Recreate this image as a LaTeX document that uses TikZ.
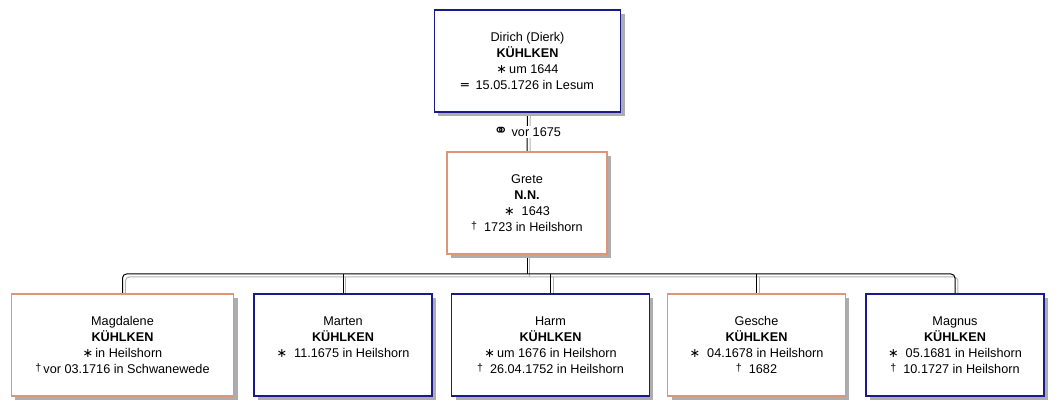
\documentclass[tikz,border=0pt]{standalone}
\usepackage{fontspec}
\setmainfont{Liberation Sans}
\newfontfamily\symb{DejaVu Sans}
\usetikzlibrary{shadows,backgrounds}
\definecolor{bleu}{RGB}{26,26,140}
\definecolor{saumon}{RGB}{222,150,120}
\newcommand{\geb}{{\symb ∗}}
\newcommand{\gest}{\raisebox{1.5pt}{\footnotesize †}}
\newcommand{\begr}{{\symb ═}}
\newcommand{\heirat}{{\symb\fontsize{13}{12}\selectfont ⚭}}
\begin{document}
\begin{tikzpicture}[x=0.75pt,y=-0.75pt]
		\tikzstyle{carte}=[minimum height=76.5pt, align=center, fill=white, line width=0.8pt, font=\fontsize{9.5}{12}\selectfont, drop shadow={shadow xshift=3pt, shadow yshift=-3pt, fill=black!32, opacity=1}]
		\tikzstyle{homme}=[carte, draw=bleu]
		\tikzstyle{femme}=[carte, draw=saumon]
		\tikzstyle{lien}=[line width=0.75pt, preaction={draw=black!30, line width=0.75pt, transform canvas={shift={(2.2pt,-2.2pt)}}}]
		\useasboundingbox (0,0) rectangle (1064,416);
		% parents
		\node[homme, minimum width=140pt] (dirich) at (527.5,61) {Dirich (Dierk)\\\textbf{KÜHLKEN}\\\geb\,um 1644\\\begr\ \ 15.05.1726 in Lesum};
		\node[femme, minimum width=120pt] (grete) at (527,203) {Grete\\\textbf{N.N.}\\\geb\ \ 1643\\\gest\ \ 1723 in Heilshorn};
		% enfants
		\node[femme, minimum width=167pt] (magdalene) at (122.5,345) {Magdalene\\\textbf{KÜHLKEN}\\\geb\,in Heilshorn\\\gest\,vor 03.1716 in Schwanewede};
		\node[homme, minimum width=133.5pt] (marten) at (343,345) {Marten\\\textbf{KÜHLKEN}\\\geb\ \ 11.1675 in Heilshorn\\\mbox{}};
		\node[homme, minimum width=148pt] (harm) at (550.5,345) {Harm\\\textbf{KÜHLKEN}\\\geb\,um 1676 in Heilshorn\\\gest\ \ 26.04.1752 in Heilshorn};
		\node[femme, minimum width=133pt] (gesche) at (756.5,345) {Gesche\\\textbf{KÜHLKEN}\\\geb\ \ 04.1678 in Heilshorn\\\gest\ \ 1682};
		\node[homme, minimum width=133.5pt] (magnus) at (955,345) {Magnus\\\textbf{KÜHLKEN}\\\geb\ \ 05.1681 in Heilshorn\\\gest\ \ 10.1727 in Heilshorn};
		\coordinate (bus) at (527,274);
		\begin{pgfonlayer}{background}
			\draw[lien] (dirich) -- node[fill=white, inner sep=1pt, font=\fontsize{9.5}{12}\selectfont] {\heirat\ vor 1675} (grete);
			\draw[lien] (grete) -- (bus);
			\draw[lien, rounded corners=3pt] (magdalene.north) |- (bus) -| (magnus.north);
			\foreach \e in {marten,harm,gesche}
				\draw[lien] (bus -| \e.north) -- (\e.north);
		\end{pgfonlayer}
	\end{tikzpicture}
\end{document}
